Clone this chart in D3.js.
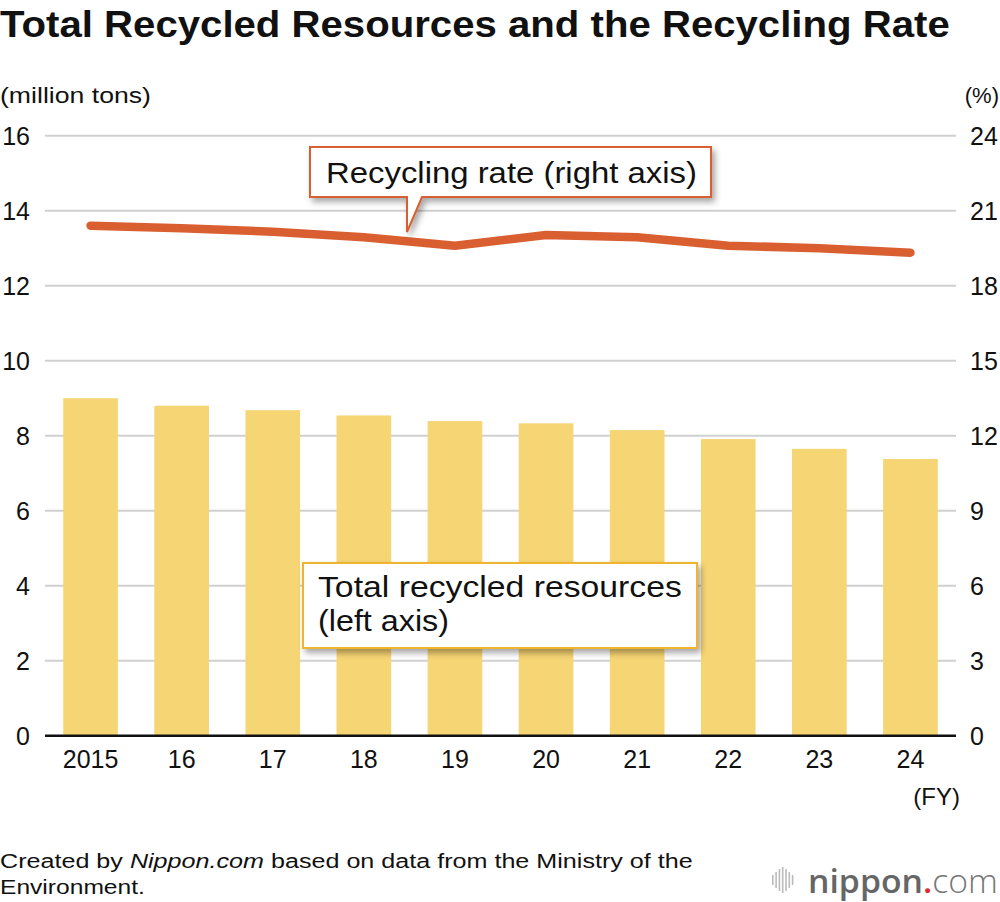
<!DOCTYPE html>
<html>
<head>
<meta charset="utf-8">
<script src="https://cdn.jsdelivr.net/npm/d3@7"></script>
<style>
  body { margin: 0; background: #fff; }
  svg text { font-family: "Liberation Sans", Arial, Helvetica, sans-serif; fill: #111; }
</style>
</head>
<body>
<div id="chart"></div>
<script>
// data
const years = ["2015", "16", "17", "18", "19", "20", "21", "22", "23", "24"];
const recycled = [9.0, 8.8, 8.68, 8.54, 8.39, 8.33, 8.15, 7.91, 7.65, 7.38]; // million tons
const rate = [20.4, 20.3, 20.16, 19.94, 19.6, 20.03, 19.94, 19.6, 19.5, 19.32]; // %
const leftTicks = [0, 2, 4, 6, 8, 10, 12, 14, 16];
const rightTicks = [0, 3, 6, 9, 12, 15, 18, 21, 24];

var width = 1000,
    height = 902;

var svg = d3.select("#chart")
  .append("svg")
  .attr("width", width)
  .attr("height", height);

// the original type sets a bit wider than Liberation Sans, so stretch to the measured width
function fit(sel, w) {
  var node = sel.node();
  var len = node.getComputedTextLength();
  var x0 = +sel.attr("x");
  var anchor = sel.attr("text-anchor");
  var k = w / len;
  sel.attr("transform", "translate(" + x0 + ",0) scale(" + k + ",1) translate(" + (-x0) + ",0)");
  return sel;
}

var defs = svg.append("defs");
var shadow = defs.append("filter").attr("id", "shadow")
  .attr("x", "-10%").attr("y", "-20%").attr("width", "130%").attr("height", "160%");
shadow.append("feDropShadow")
  .attr("dx", 3).attr("dy", 4).attr("stdDeviation", 3)
  .attr("flood-color", "#000").attr("flood-opacity", 0.35);

var plotLeft = 45, plotRight = 956,
    plotTop = 135.7, plotBottom = 735.7;

// scales
var x = d3.scaleBand().domain(years).range([plotLeft, plotRight]).paddingInner(0.4).paddingOuter(0.2);
var yL = d3.scaleLinear().domain([0, 16]).range([plotBottom, plotTop]);
var yR = d3.scaleLinear().domain([0, 24]).range([plotBottom, plotTop]);

// title
fit(svg.append("text")
  .attr("x", 0).attr("y", 37)
  .style("font-size", "36px").style("font-weight", "bold")
  .text("Total Recycled Resources and the Recycling Rate"), 950);

fit(svg.append("text").attr("x", 0).attr("y", 103)
  .style("font-size", "22px").text("(million tons)"), 151);
svg.append("text").attr("x", 999).attr("y", 103)
  .attr("text-anchor", "end")
  .style("font-size", "22px").text("(%)");

// grid
svg.append("g").selectAll("line")
  .data(leftTicks.filter(d => d > 0))
  .enter().append("line")
  .attr("x1", plotLeft).attr("x2", plotRight)
  .attr("y1", d => yL(d)).attr("y2", d => yL(d))
  .attr("stroke", "#d0d0d0").attr("stroke-width", 2);

// left axis
var leftAxis = d3.axisLeft(yL).tickValues(leftTicks).tickSize(0).tickPadding(0);
var gL = svg.append("g").attr("transform", "translate(30,0)").call(leftAxis);
gL.select(".domain").remove();
gL.selectAll("text").style("font-size", "25px").attr("fill", "#111").attr("dy", "0.36em");

// right axis
var rightAxis = d3.axisRight(yR).tickValues(rightTicks).tickSize(0).tickPadding(0);
var gR = svg.append("g").attr("transform", "translate(970,0)").call(rightAxis);
gR.select(".domain").remove();
gR.selectAll("text").style("font-size", "25px").attr("fill", "#111").attr("dy", "0.36em");

// bars
svg.append("g").selectAll("rect")
  .data(recycled)
  .enter().append("rect")
  .attr("x", (d, i) => x(years[i]))
  .attr("y", d => yL(d))
  .attr("width", x.bandwidth())
  .attr("height", d => plotBottom - yL(d))
  .attr("fill", "#f6d574");

// baseline
svg.append("line")
  .attr("x1", plotLeft).attr("x2", plotRight)
  .attr("y1", plotBottom).attr("y2", plotBottom)
  .attr("stroke", "#111").attr("stroke-width", 2.5);

// x axis labels
var xAxis = d3.axisBottom(x).tickSize(0).tickPadding(0);
var gX = svg.append("g").attr("transform", "translate(0," + (plotBottom + 15) + ")").call(xAxis);
gX.select(".domain").remove();
gX.selectAll("text").style("font-size", "25px").attr("fill", "#111").attr("dy", "0.71em");

svg.append("text").attr("x", 960).attr("y", 805)
  .attr("text-anchor", "end").style("font-size", "24px").text("(FY)");

// rate line
var line = d3.line()
  .x((d, i) => x(years[i]) + x.bandwidth() / 2)
  .y(d => yR(d));

svg.append("path")
  .datum(rate)
  .attr("d", line)
  .attr("fill", "none")
  .attr("stroke", "#d95f30")
  .attr("stroke-width", 8.5)
  .attr("stroke-linecap", "round")
  .attr("stroke-linejoin", "round");

// callout: recycling rate
var c1 = svg.append("g");
c1.append("path")
  .attr("d", "M310,147 H711 V197 H422 L407,232 V197 H310 Z")
  .attr("fill", "#fff")
  .attr("stroke", "#d95f30").attr("stroke-width", 2)
  .attr("filter", "url(#shadow)");
fit(c1.append("text").attr("x", 326).attr("y", 183)
  .style("font-size", "30px").text("Recycling rate (right axis)"), 371);

// callout: total recycled
var c2 = svg.append("g");
c2.append("rect")
  .attr("x", 303).attr("y", 563).attr("width", 394).attr("height", 85)
  .attr("fill", "#fff")
  .attr("stroke", "#f0b52e").attr("stroke-width", 2)
  .attr("filter", "url(#shadow)");
fit(c2.append("text").attr("x", 318).attr("y", 597)
  .style("font-size", "30px").text("Total recycled resources"), 364);
fit(c2.append("text").attr("x", 318).attr("y", 631)
  .style("font-size", "30px").text("(left axis)"), 131);

// footer
var foot = svg.append("text").attr("x", 0).attr("y", 868).style("font-size", "20px");
foot.append("tspan").text("Created by ");
foot.append("tspan").style("font-style", "italic").text("Nippon.com");
foot.append("tspan").text(" based on data from the Ministry of the");
fit(foot, 693);
fit(svg.append("text").attr("x", 0).attr("y", 894).style("font-size", "20px").text("Environment."), 145);

// logo
var logo = svg.append("g");
var bars = [0, 1, 2, 3, 4, 5, 6];
var barH = [10, 16, 22, 26, 22, 16, 10];
logo.selectAll("rect").data(bars).enter().append("rect")
  .attr("x", d => 772 + d * 3.3)
  .attr("y", d => 880 - barH[d] / 2)
  .attr("width", 1.6)
  .attr("height", d => barH[d])
  .attr("fill", "#bbb");
var lt = logo.append("text").attr("x", 808).attr("y", 893)
  .style("font-family", "'Open Sans', 'DejaVu Sans', sans-serif")
  .style("font-size", "33px");
lt.append("tspan").style("font-weight", "600").style("fill", "#666").text("nippon");
lt.append("tspan").style("fill", "#e8242b").style("font-weight", "600").text(".");
lt.append("tspan").style("fill", "#777").style("font-weight", "300").text("com");
fit(lt, 190);
</script>
</body>
</html>
